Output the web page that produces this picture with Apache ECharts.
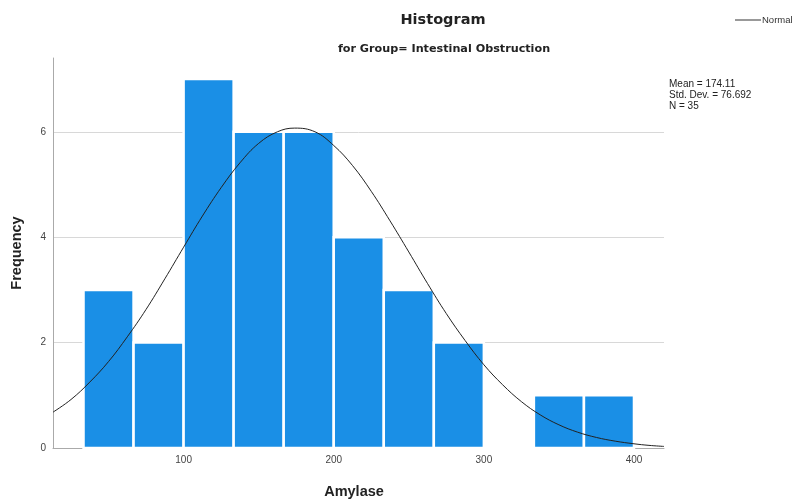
<!DOCTYPE html>
<html>
<head>
<meta charset="utf-8">
<script src="https://cdn.jsdelivr.net/npm/echarts@6/dist/echarts.min.js"></script>
<style>html,body{margin:0;padding:0;background:#fff}#c{width:798px;height:504px}</style>
</head>
<body>
<div id="c"></div>
<script>
// Histogram bins (lower edge) and counts
var binStarts = [33.33, 66.67, 100, 133.33, 166.67, 200, 233.33, 266.67, 300, 333.33, 366.67];
var binWidth = 33.33;
var counts = [3, 2, 7, 6, 6, 4, 3, 2, 0, 1, 1];
// Normal curve points
var curveX = [13, 25, 37.5, 50, 62.5, 75, 87.5, 100, 112.5, 125, 137.5, 150, 162.5, 174, 187.5, 200, 212.5, 225, 237.5, 250, 262.5, 275, 287.5, 300, 312.5, 325, 337.5, 350, 362.5, 375, 387.5, 400, 410, 420];
var curveY = [0.68, 0.92, 1.25, 1.64, 2.11, 2.63, 3.21, 3.81, 4.40, 4.94, 5.41, 5.78, 6.00, 6.07, 6.00, 5.74, 5.36, 4.87, 4.31, 3.72, 3.12, 2.55, 2.04, 1.58, 1.20, 0.88, 0.63, 0.44, 0.30, 0.20, 0.13, 0.08, 0.05, 0.03];
var yTicks = [0, 2, 4, 6];
var xTicks = [100, 200, 300, 400];
var statsLines = ['Mean = 174.11', 'Std. Dev. = 76.692', 'N = 35'];

var barData = binStarts.map(function (s, i) { return [s, s + binWidth, counts[i]]; });
var curveData = curveX.map(function (x, i) { return [x, curveY[i]]; });

var chart = echarts.init(document.getElementById('c'), null, {renderer: 'canvas'});
chart.setOption({
  backgroundColor: '#fff',
  animation: false,
  title: [
    {text: 'Histogram', left: 438, top: 8, textAlign: 'center',
     textStyle: {fontFamily: 'DejaVu Sans', fontSize: 14.5, fontWeight: 'bold', color: '#222'}},
    {text: 'for Group= Intestinal Obstruction', left: 439, top: 39, textAlign: 'center',
     textStyle: {fontFamily: 'DejaVu Sans', fontSize: 11.2, fontWeight: 'bold', color: '#222'}}
  ],
  legend: {
    left: 730, top: 10, itemWidth: 26, itemHeight: 1.5, itemGap: 2,
    icon: 'rect',
    textStyle: {fontFamily: 'Liberation Sans, Arial', fontSize: 9.5, color: '#333', padding: [0, 0, 0, -4]},
    data: [{name: 'Normal', itemStyle: {color: '#777'}}]
  },
  graphic: [{
    type: 'text', left: 669, top: 79,
    style: {text: statsLines.join('\n'), font: '10px Liberation Sans, Arial', fill: '#222', lineHeight: 11}
  }],
  grid: {left: 53, right: 134, top: 58, bottom: 56},
  xAxis: {
    type: 'value', min: 13, max: 420,
    name: 'Amylase', nameLocation: 'middle', nameGap: 36,
    nameTextStyle: {fontFamily: 'Liberation Sans, Arial', fontSize: 14.5, fontWeight: 'bold', color: '#222', padding: [0, 9, 0, 0]},
    axisLine: {show: true, lineStyle: {color: '#aaa', width: 1}},
    axisTick: {show: false},
    splitLine: {show: false},
    axisLabel: {
      fontFamily: 'Liberation Sans, Arial', fontSize: 10, color: '#444', margin: 7,
      customValues: xTicks
    }
  },
  yAxis: {
    type: 'value', min: 0, max: 7.4, interval: 2,
    name: 'Frequency', nameLocation: 'middle', nameGap: 29, nameRotate: 90,
    nameTextStyle: {fontFamily: 'Liberation Sans, Arial', fontSize: 14.5, fontWeight: 'bold', color: '#222'},
    axisLine: {show: true, lineStyle: {color: '#aaa', width: 1}},
    axisTick: {show: false},
    splitLine: {show: true, showMaxLine: false, lineStyle: {color: '#d8d8d8', width: 1}},
    axisLabel: {fontFamily: 'Liberation Sans, Arial', fontSize: 10, color: '#444', margin: 7,
      customValues: yTicks}
  },
  series: [
    {
      type: 'custom',
      name: 'bars',
      z: 2,
      renderItem: function (params, api) {
        var p0 = api.coord([api.value(0), api.value(2)]);
        var p1 = api.coord([api.value(1), 0]);
        return {
          type: 'rect',
          shape: {x: p0[0], y: p0[1], width: p1[0] - p0[0], height: p1[1] - p0[1]},
          style: {fill: '#1a8fe6', stroke: '#ffffff', lineWidth: 2.5}
        };
      },
      encode: {x: [0, 1], y: 2},
      data: barData
    },
    {
      type: 'line',
      name: 'Normal',
      z: 3,
      smooth: 0.4,
      showSymbol: false,
      symbol: 'none',
      lineStyle: {color: '#222', width: 1},
      itemStyle: {color: '#777'},
      data: curveData
    }
  ]
});
</script>
</body>
</html>
